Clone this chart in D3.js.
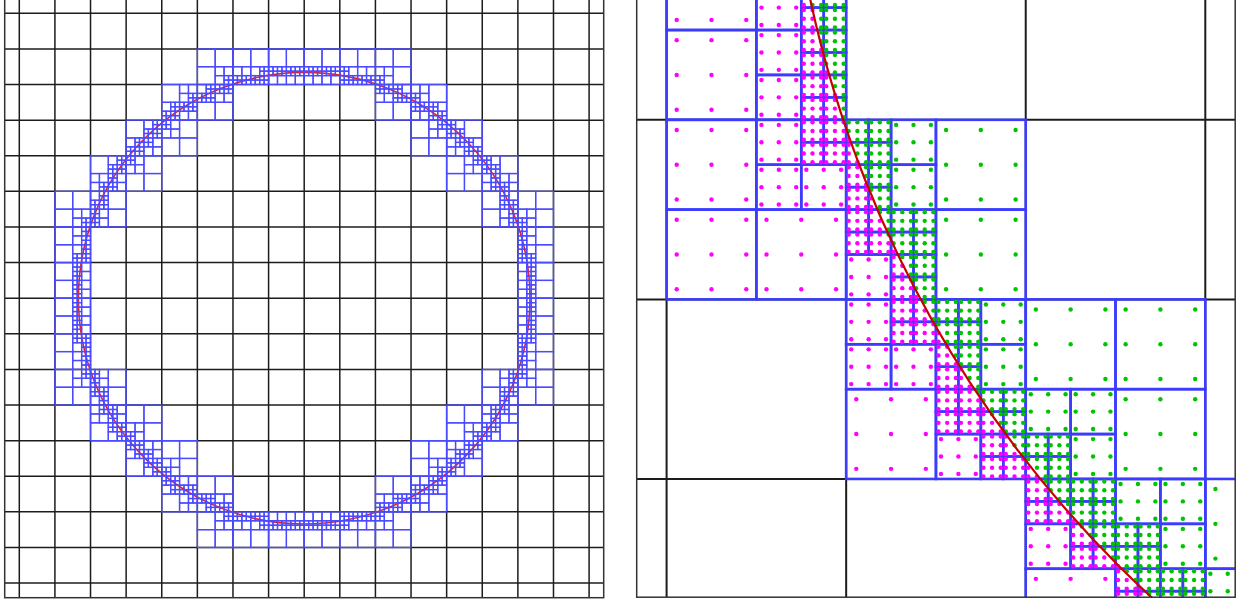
<!DOCTYPE html>
<html>
<head>
<meta charset="utf-8">
<script src="https://cdn.jsdelivr.net/npm/d3@7"></script>
<style>
    body { margin: 0; background: #ffffff; }
    svg { display: block; }
</style>
</head>
<body>
<svg id="chart" width="1239" height="600"></svg>
<script>

// geometry, in units of the coarse cell size h
var circleCenter = [ 0, 0 ];
var circleRadius = [ 6.34 ];
var coarseRange = [ -9, 9 ];
var maxLevel = [ 3 ];

// 3-point Gauss points on the unit interval
var gaussPts = [ 0.1127, 0.5, 0.8873 ];

// world windows of the two panels: [ centerX, centerY, halfWidth ]
var leftWindow = [ 0, 0, 8.41 ];
var rightWindow = [ -5.5, -2.992, 1.6665 ];

var R = circleRadius[ 0 ];

function intersects ( x, y, s ) {

    var cx = circleCenter[ 0 ], cy = circleCenter[ 1 ];
    var dx = Math.max( x - cx, 0, cx - ( x + s ) );
    var dy = Math.max( y - cy, 0, cy - ( y + s ) );
    var minD = Math.sqrt( dx * dx + dy * dy );
    var fx = Math.max( Math.abs( x - cx ), Math.abs( x + s - cx ) );
    var fy = Math.max( Math.abs( y - cy ), Math.abs( y + s - cy ) );
    var maxD = Math.sqrt( fx * fx + fy * fy );

    return minD <= R && maxD >= R;

}

var leaves = [];

function refine ( x, y, s, level ) {

    if ( level < maxLevel[ 0 ] && intersects( x, y, s ) ) {

        var hs = s / 2;
        refine( x, y, hs, level + 1 );
        refine( x + hs, y, hs, level + 1 );
        refine( x, y + hs, hs, level + 1 );
        refine( x + hs, y + hs, hs, level + 1 );

    } else {

        leaves.push({ x: x, y: y, s: s, level: level });

    }

}

for ( var i = coarseRange[ 0 ]; i < coarseRange[ 1 ]; i++ ) {
    for ( var j = coarseRange[ 0 ]; j < coarseRange[ 1 ]; j++ ) {
        refine( i, j, 1, 0 );
    }
}

var blueCells = leaves.filter( function ( d ) { return d.level > 0 } );

var svg = d3.select('#chart');
var defs = svg.append('defs');

function drawPanel ( id, win, box, style ) {

    var x = d3.scaleLinear()
        .domain([ win[ 0 ] - win[ 2 ], win[ 0 ] + win[ 2 ] ])
        .range([ box[ 0 ], box[ 0 ] + box[ 2 ] ]);

    var y = d3.scaleLinear()
        .domain([ win[ 1 ] - win[ 2 ], win[ 1 ] + win[ 2 ] ])
        .range([ box[ 1 ] + box[ 2 ], box[ 1 ] ]);

    defs.append('clipPath')
        .attr('id', 'clip-' + id)
        .append('rect')
        .attr('x', box[ 0 ])
        .attr('y', box[ 1 ])
        .attr('width', box[ 2 ])
        .attr('height', box[ 2 ]);

    var g = svg.append('g')
        .attr('clip-path', 'url(#clip-' + id + ')');

    // coarse grid

    var ticks = d3.range( coarseRange[ 0 ], coarseRange[ 1 ] + 1 );

    g.selectAll('.vgrid')
        .data( ticks )
        .enter().append('line')
        .attr('x1', function ( d ) { return x( d ) })
        .attr('x2', function ( d ) { return x( d ) })
        .attr('y1', box[ 1 ])
        .attr('y2', box[ 1 ] + box[ 2 ])
        .style('stroke', '#1c1c1c')
        .style('stroke-width', style.gridWidth);

    g.selectAll('.hgrid')
        .data( ticks )
        .enter().append('line')
        .attr('y1', function ( d ) { return y( d ) })
        .attr('y2', function ( d ) { return y( d ) })
        .attr('x1', box[ 0 ])
        .attr('x2', box[ 0 ] + box[ 2 ])
        .style('stroke', '#1c1c1c')
        .style('stroke-width', style.gridWidth);

    var circle = function () {
        g.append('circle')
            .attr('cx', x( circleCenter[ 0 ] ))
            .attr('cy', y( circleCenter[ 1 ] ))
            .attr('r', x( R ) - x( 0 ))
            .style('fill', 'none')
            .style('stroke', style.red)
            .style('stroke-width', style.redWidth);
    };

    if ( ! style.dots ) circle();

    // refined cells

    var visible = blueCells.filter( function ( d ) {
        return d.x + d.s >= win[ 0 ] - win[ 2 ] - 0.1 && d.x <= win[ 0 ] + win[ 2 ] + 0.1 &&
               d.y + d.s >= win[ 1 ] - win[ 2 ] - 0.1 && d.y <= win[ 1 ] + win[ 2 ] + 0.1;
    });

    g.selectAll('.cell')
        .data( visible )
        .enter().append('rect')
        .attr('x', function ( d ) { return x( d.x ) })
        .attr('y', function ( d ) { return y( d.y + d.s ) })
        .attr('width', function ( d ) { return x( d.x + d.s ) - x( d.x ) })
        .attr('height', function ( d ) { return y( d.y ) - y( d.y + d.s ) })
        .style('fill', 'none')
        .style('stroke', style.blue)
        .style('stroke-width', style.blueWidth);

    if ( style.dots ) {

        var pts = [];

        visible.forEach( function ( c ) {
            gaussPts.forEach( function ( a ) {
                gaussPts.forEach( function ( b ) {
                    var px = c.x + a * c.s, py = c.y + b * c.s;
                    var r = Math.sqrt( Math.pow( px - circleCenter[ 0 ], 2 ) + Math.pow( py - circleCenter[ 1 ], 2 ) );
                    pts.push({ x: px, y: py, inside: r < R });
                });
            });
        });

        g.selectAll('.dot')
            .data( pts )
            .enter().append('circle')
            .attr('cx', function ( d ) { return x( d.x ) })
            .attr('cy', function ( d ) { return y( d.y ) })
            .attr('r', 2.2)
            .style('fill', function ( d ) { return d.inside ? '#00c400' : '#ff00ff' });

        circle();

    }

    // frame

    svg.append('rect')
        .attr('x', box[ 0 ])
        .attr('y', box[ 1 ])
        .attr('width', box[ 2 ])
        .attr('height', box[ 2 ])
        .style('fill', 'none')
        .style('stroke', '#333333')
        .style('stroke-width', 1.5);

}

// left panel: whole circle

drawPanel( 'left', leftWindow, [ 4.7, -1.3, 599 ], {
    gridWidth: 1.5,
    blue: '#4a4aff',
    blueWidth: 1.3,
    red: '#e8202a',
    redWidth: 1.6,
    dots: false
});

// right panel: zoom on the lower left arc

drawPanel( 'right', rightWindow, [ 636.7, -1.3, 598.5 ], {
    gridWidth: 2,
    blue: '#3c3cff',
    blueWidth: 2.6,
    red: '#c80000',
    redWidth: 2.2,
    dots: true
});

</script>
</body>
</html>
